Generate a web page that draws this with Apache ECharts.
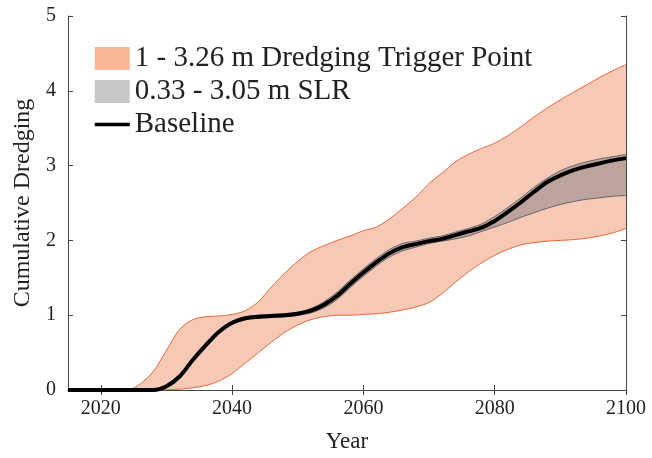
<!DOCTYPE html>
<html>
<head>
<meta charset="utf-8">
<script src="https://cdn.jsdelivr.net/npm/echarts@6/dist/echarts.min.js"></script>
<style>
  html, body { margin: 0; padding: 0; background: #fff; }
  #chart { width: 652px; height: 458px; }
</style>
</head>
<body>
<div id="chart"></div>
<script>
// years sampled along the x axis
var years = [2015, 2020, 2024, 2026, 2028, 2030, 2032, 2034, 2036, 2038,
  2040, 2042, 2044, 2046, 2048, 2050, 2052, 2054, 2056, 2058,
  2060, 2062, 2064, 2066, 2068, 2070, 2072, 2074, 2076, 2078,
  2080, 2082, 2084, 2086, 2088, 2090, 2092, 2094, 2096, 2098, 2100];

// 1 - 3.26 m dredging trigger point band
var triggerLow = [0, 0, 0, 0, 0, 0.005, 0.01, 0.03, 0.06, 0.12,
  0.22, 0.36, 0.50, 0.64, 0.77, 0.87, 0.94, 0.98, 1.00, 1.00,
  1.01, 1.02, 1.04, 1.07, 1.11, 1.17, 1.29, 1.44, 1.58, 1.70,
  1.80, 1.88, 1.94, 1.97, 1.99, 2.00, 2.01, 2.03, 2.06, 2.10, 2.16];
var triggerHigh = [0, 0, 0, 0.08, 0.25, 0.53, 0.81, 0.94, 0.98, 0.99,
  1.01, 1.06, 1.18, 1.38, 1.56, 1.72, 1.85, 1.93, 2.00, 2.06,
  2.13, 2.18, 2.29, 2.43, 2.58, 2.76, 2.90, 3.05, 3.15, 3.23,
  3.30, 3.40, 3.52, 3.65, 3.77, 3.88, 3.98, 4.08, 4.18, 4.27, 4.35];

// 0.33 - 3.05 m SLR band
var slrLow = [0, 0, 0, 0, 0, 0.03, 0.16, 0.38, 0.58, 0.76,
  0.88, 0.94, 0.96, 0.97, 0.98, 1.00, 1.03, 1.10, 1.21, 1.37,
  1.52, 1.66, 1.78, 1.86, 1.91, 1.96, 1.99, 2.02, 2.06, 2.12,
  2.18, 2.24, 2.31, 2.37, 2.43, 2.48, 2.52, 2.55, 2.57, 2.59, 2.60];
var slrHigh = [0, 0, 0, 0, 0.01, 0.07, 0.20, 0.42, 0.62, 0.80,
  0.92, 0.98, 1.00, 1.01, 1.02, 1.04, 1.09, 1.18, 1.31, 1.47,
  1.62, 1.76, 1.88, 1.96, 1.99, 2.03, 2.06, 2.11, 2.16, 2.22,
  2.32, 2.44, 2.57, 2.71, 2.83, 2.93, 3.00, 3.05, 3.09, 3.12, 3.15];

// baseline
var baseline = [0, 0, 0, 0, 0, 0.05, 0.18, 0.40, 0.60, 0.78,
  0.90, 0.96, 0.98, 0.99, 1.00, 1.02, 1.06, 1.14, 1.26, 1.42,
  1.57, 1.71, 1.83, 1.91, 1.95, 1.99, 2.02, 2.07, 2.12, 2.17,
  2.26, 2.38, 2.51, 2.65, 2.78, 2.87, 2.94, 2.99, 3.03, 3.07, 3.10];

var xTicks = [2020, 2040, 2060, 2080, 2100];

var triggerName = '1 - 3.26 m Dredging Trigger Point';
var slrName = '0.33 - 3.05 m SLR';
var baseName = 'Baseline';

// [value, year] so the value is the first (stacked) dimension
function pairs(vals) {
  return years.map(function (y, i) { return [vals[i], y]; });
}
function diff(hi, lo) {
  return years.map(function (y, i) { return [+(hi[i] - lo[i]).toFixed(3), y]; });
}

var font = 'Liberation Serif';
var axisColor = '#444';
var textColor = '#222';
var enc = { x: 1, y: 0 };

var chart = echarts.init(document.getElementById('chart'));
chart.setOption({
  animation: false,
  backgroundColor: '#fff',
  grid: { left: 68, right: 26, top: 16, bottom: 65 },
  legend: {
    orient: 'vertical',
    left: 88,
    top: 39,
    itemWidth: 35,
    itemHeight: 23,
    itemGap: 4,
    selectedMode: false,
    textStyle: { fontFamily: font, fontSize: 29, color: textColor, lineHeight: 29 },
    data: [
      {
        name: triggerName, icon: 'rect',
        itemStyle: { color: '#f9b79a', borderColor: '#f9b79a', borderWidth: 0 },
        lineStyle: { width: 0, opacity: 0 }
      },
      {
        name: slrName, icon: 'rect',
        itemStyle: { color: '#c8c8c8', borderColor: '#c8c8c8', borderWidth: 0 },
        lineStyle: { width: 0, opacity: 0 }
      },
      {
        name: baseName,
        lineStyle: { width: 3.5, color: '#000' },
        itemStyle: { color: 'rgba(0,0,0,0)', borderColor: 'rgba(0,0,0,0)', borderWidth: 0 }
      }
    ]
  },
  xAxis: [
    {
      type: 'value', min: 2015, max: 2100,
      name: 'Year', nameLocation: 'middle', nameGap: 40,
      nameTextStyle: { fontFamily: font, fontSize: 23, color: textColor },
      axisLine: { show: true, lineStyle: { color: axisColor, width: 1 } },
      axisTick: { show: true, inside: true, length: 5, customValues: xTicks, lineStyle: { color: axisColor } },
      axisLabel: {
        customValues: xTicks, margin: 9, showMaxLabel: true,
        fontFamily: font, fontSize: 20, color: textColor,
        formatter: function (v) { return String(v); }
      },
      splitLine: { show: false }
    },
    {
      type: 'value', min: 2015, max: 2100, position: 'top',
      axisLine: { show: true, lineStyle: { color: axisColor, width: 1 } },
      axisTick: { show: true, inside: true, length: 5, customValues: xTicks, lineStyle: { color: axisColor } },
      axisLabel: { show: false },
      splitLine: { show: false }
    }
  ],
  yAxis: [
    {
      type: 'value', min: 0, max: 5, interval: 1,
      name: 'Cumulative Dredging', nameLocation: 'middle', nameGap: 33,
      nameTextStyle: { fontFamily: font, fontSize: 24, color: textColor },
      axisLine: { show: true, lineStyle: { color: axisColor, width: 1 } },
      axisTick: { show: true, inside: true, length: 5, lineStyle: { color: axisColor } },
      axisLabel: { margin: 12, fontFamily: font, fontSize: 20, color: textColor },
      splitLine: { show: false }
    },
    {
      type: 'value', min: 0, max: 5, interval: 1, position: 'right',
      axisLine: { show: true, lineStyle: { color: axisColor, width: 1 } },
      axisTick: { show: true, inside: true, length: 5, lineStyle: { color: axisColor } },
      axisLabel: { show: false },
      splitLine: { show: false }
    }
  ],
  series: [
    {
      name: 'triggerLow', type: 'line', stack: 'trigger', stackStrategy: 'all',
      data: pairs(triggerLow), encode: enc, symbol: 'none', smooth: 0.3, z: 2,
      lineStyle: { color: '#e8683a', width: 1 }
    },
    {
      name: triggerName, type: 'line', stack: 'trigger', stackStrategy: 'all',
      data: diff(triggerHigh, triggerLow), encode: enc, symbol: 'none', smooth: 0.3, z: 2,
      lineStyle: { color: '#e8683a', width: 1 },
      itemStyle: { color: '#f9b79a' },
      areaStyle: { color: '#f6c9b6', opacity: 1 }
    },
    {
      name: 'slrLow', type: 'line', stack: 'slr', stackStrategy: 'all',
      data: pairs(slrLow), encode: enc, symbol: 'none', smooth: 0.3, z: 3,
      lineStyle: { color: '#666', width: 1 }
    },
    {
      name: slrName, type: 'line', stack: 'slr', stackStrategy: 'all',
      data: diff(slrHigh, slrLow), encode: enc, symbol: 'none', smooth: 0.3, z: 3,
      lineStyle: { color: '#666', width: 1 },
      itemStyle: { color: '#c8c8c8' },
      areaStyle: { color: 'rgba(120,118,128,0.45)', opacity: 1 }
    },
    {
      name: baseName, type: 'line',
      data: pairs(baseline), encode: enc, symbol: 'none', smooth: 0.3, z: 4,
      lineStyle: { color: '#000', width: 4 },
      itemStyle: { color: '#000' }
    }
  ]
});
</script>
</body>
</html>
